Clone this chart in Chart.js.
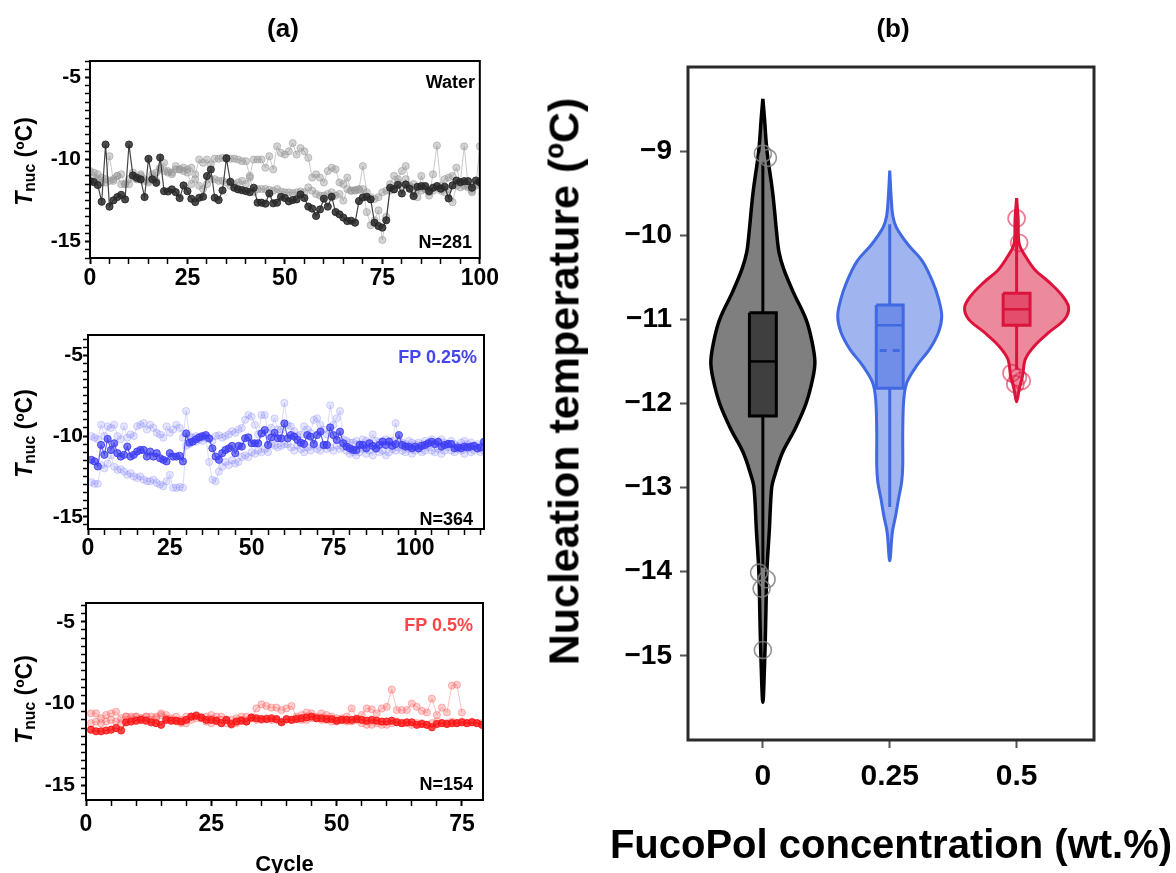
<!DOCTYPE html>
<html><head><meta charset="utf-8">
<script src="https://cdn.jsdelivr.net/npm/chart.js@4.4.1/dist/chart.umd.min.js"></script>
<style>
html,body{margin:0;padding:0;background:#fff;}
body{width:1176px;height:873px;position:relative;overflow:hidden;font-family:"Liberation Sans",Arial,Helvetica,sans-serif;font-weight:bold;color:#000;}
canvas{position:absolute;}
.t{position:absolute;white-space:nowrap;font-weight:bold;}
.rot{position:absolute;white-space:nowrap;font-weight:bold;text-align:center;transform-origin:50% 50%;transform:rotate(-90deg);}
.rot sub{font-size:68%;vertical-align:-0.25em;}
</style></head><body>
<canvas id="c1" width="500" height="270" style="left:0;top:40px"></canvas>
<canvas id="c2" width="500" height="260" style="left:0;top:310px"></canvas>
<canvas id="c3" width="500" height="300" style="left:0;top:580px"></canvas>
<canvas id="c4" width="636" height="873" style="left:540px;top:0"></canvas>

<div class="t" style="left:233px;width:100px;text-align:center;top:15px;font-size:26px;line-height:26px;">(a)</div>
<div class="t" style="left:843px;width:100px;text-align:center;top:15px;font-size:26px;line-height:26px;">(b)</div>

<div class="rot" style="left:-23px;top:147px;width:100px;font-size:23px;line-height:23px;"><i>T</i><sub>nuc</sub> (ºC)</div>
<div class="rot" style="left:-23px;top:419px;width:100px;font-size:23px;line-height:23px;"><i>T</i><sub>nuc</sub> (ºC)</div>
<div class="rot" style="left:-23px;top:685px;width:100px;font-size:23px;line-height:23px;"><i>T</i><sub>nuc</sub> (ºC)</div>

<div class="t" style="right:701px;top:73px;font-size:18px;line-height:18px;">Water</div>
<div class="t" style="right:704px;top:233px;font-size:18px;line-height:18px;">N=281</div>
<div class="t" style="right:699px;top:348px;font-size:18px;line-height:18px;color:#4646f0;">FP 0.25%</div>
<div class="t" style="right:703px;top:510px;font-size:18px;line-height:18px;">N=364</div>
<div class="t" style="right:703px;top:616px;font-size:18px;line-height:18px;color:#ff4545;">FP 0.5%</div>
<div class="t" style="right:703px;top:775px;font-size:18px;line-height:18px;">N=154</div>

<div class="rot" style="left:214px;top:360px;width:700px;font-size:43px;line-height:43px;">Nucleation temperature (ºC)</div>
<div class="t" style="left:541px;width:700px;text-align:center;top:824px;font-size:40px;line-height:40px;">FucoPol concentration (wt.%)</div>

<script>
// ---------------- DATA ----------------
// Panel (a) top: Water, cycles 0..100
const waterStart = 0;
const waterDark = [
 -11.32,-11.38,-11.56,-12.57,-9.09,-12.87,-12.49,-12.29,-12.15,-12.43,
 -9.09,-10.97,-11.11,-11.21,-12.29,-9.96,-11.21,-11.42,-9.88,-11.93,
 -11.95,-11.82,-11.99,-12.35,-11.58,-11.93,-12.39,-12.59,-12.33,-12.27,
 -11.01,-10.61,-12.33,-12.47,-11.88,-9.92,-11.36,-11.72,-11.82,-11.87,
 -11.93,-11.99,-11.72,-12.63,-12.63,-12.69,-12.07,-12.67,-12.63,-12.27,
 -12.35,
 -12.55,-12.47,-12.43,-12.13,-12.35,-12.87,-12.99,-13.44,-13.04,-12.39,
 -12.87,-12.27,-13.2,-13.34,-13.54,-13.75,-13.73,-13.85,-12.53,-12.31,
 -12.27,-12.43,-13.85,-14.05,-14.15,-13.7,-11.72,-11.82,-11.54,-12.07,
 -11.52,-11.78,-12.23,-11.66,-11.62,-11.62,-11.93,-11.72,-11.62,-11.78,
 -11.66,-12.37,-11.58,-11.28,-11.38,-11.32,-11.32,-11.72,-11.28,-11.38];
const waterLightA = [
 -10.7,-10.8,-10.9,-11.1,-11.2,-9.8,-11.3,-11.0,-10.9,-11.5,
 -11.5,-11.0,-11.2,-10.9,-11.2,-11.4,-10.9,-10.8,-10.5,-10.2,
 -10.7,-10.8,-10.4,-10.6,-10.5,-10.6,-10.5,-10.9,-10.0,-10.2,
 -10.0,-10.3,-9.95,-9.95,-9.9,-9.95,-9.95,-9.95,-10.0,-10.1,
 -10.1,-11.0,-10.0,-10.0,-10.0,-10.5,-9.8,-10.6,-9.2,-9.6,
 -9.7,-9.5,-9.0,-9.7,-9.3,-9.5,-9.9,-11.1,-10.9,-11.1,
 -11.4,-10.7,-10.5,-10.6,-11.4,-11.5,-11.1,-11.9,-11.85,-11.8,
 -10.4,-12.0,-12.3,-12.4,-12.3,-12.0,-11.9,-11.5,-11.0,-11.2,
 -10.7,-10.4,-11.6,-11.5,-12.3,-11.0,-11.8,-12.2,-10.9,-9.15,
 -11.6,-11.2,-11.1,-11.0,-10.5,-11.4,-9.2,-11.6,-12.0,-11.6,-9.2];
const waterLightB = [
 -11.3,-11.1,-11.2,-11.4,-11.4,-11.3,-11.2,-11.0,-11.5,-11.5,
 -11.2,-10.8,-11.2,-11.0,-11.3,-11.3,-11.1,-11.3,-10.6,-10.7,
 -10.8,-10.9,-10.6,-10.6,-10.7,-10.8,-11.5,-11.2,-11.6,-11.8,
 -11.5,-11.2,-11.2,-11.3,-11.3,-11.4,-11.6,-11.5,-11.4,-11.3,
 -11.5,-11.1,-12.0,-11.8,-11.8,-11.8,-11.85,-11.9,-11.8,-11.95,
 -12.0,-12.0,-12.05,-12.0,-11.95,-12.0,-11.7,-11.9,-12.1,-12.2,
 -12.2,-12.1,-12.0,-12.2,-12.1,-12.5,-11.8,-11.9,-11.9,-11.85,
 -11.8,-13.2,-14.0,-13.7,-13.1,-14.9,-13.5,-11.9,-11.8,-11.4,
 -11.6,-11.2,-11.7,-12.1,-11.8,-11.9,-11.8,-12.0,-11.9,-11.7,
 -11.9,-12.0,-11.8,-12.6,-11.6,-11.7,-11.6,-11.7,-11.9,-11.5,-11.4];

// Panel (a) middle: FP 0.25 %, cycles 1..121
const fp025Start = 1;
const fp025Dark = [
 -11.47,-11.57,-11.88,-10.55,-11.16,-10.18,-10.86,-10.45,-11.06,-11.27,
 -11.16,-10.65,-11.27,-11.16,-10.96,-10.86,-10.86,-11.27,-10.96,-11.27,
 -11.06,-11.37,-11.47,-11.57,-11.06,-11.27,-11.27,-11.22,-11.57,-9.84,
 -10.41,-10.35,-10.2,-10.08,-10.0,-9.94,-10.14,-10.76,-11.27,-11.47,
 -11.06,-10.86,-10.76,-10.61,-11.06,-10.61,-10.65,-10.14,-10.08,-10.45,
 -10.45,-10.45,-9.84,-9.63,-10.55,-10.08,-9.8,-10.14,-10.14,-9.22,
 -10.14,-9.94,-10.04,-10.24,-10.41,-10.49,-9.94,-10.04,-10.49,-9.94,
 -9.73,-10.55,-10.55,-9.47,-9.94,-10.24,-9.73,-10.45,-10.65,-10.76,
 -10.86,-10.86,-10.55,-10.55,-10.76,-10.45,-10.61,-10.76,-10.55,-10.35,
 -10.55,-10.35,-10.6,-10.5,-9.94,-10.55,-10.65,-10.65,-10.76,-10.65,
 -10.76,-10.61,-10.55,-10.45,-10.35,-10.49,-10.35,-10.65,-10.55,-10.49,
 -10.49,-10.76,-10.7,-10.76,-10.65,-10.7,-10.65,-10.61,-10.76,-10.7,-10.35];
const fp025LightA = [
 -10.0,-10.1,-10.2,-9.3,-10.0,-9.4,-9.5,-9.3,-10.0,-10.2,
 -9.4,-10.1,-9.9,-10.0,-9.4,-9.3,-9.2,-9.6,-9.3,-9.5,
 -9.8,-9.9,-10.1,-9.4,-9.8,-9.6,-9.3,-9.5,-10.1,-8.45,
 -10.0,-10.1,-10.0,-10.05,-10.1,-10.0,-10.2,-10.3,-10.0,-9.95,
 -10.1,-10.0,-9.9,-9.7,-9.8,-9.6,-9.5,-9.0,-8.7,-8.8,
 -9.3,-9.9,-8.7,-8.7,-9.8,-9.5,-8.9,-9.6,-9.6,-7.95,
 -9.3,-9.4,-9.7,-10.0,-9.9,-9.4,-9.6,-9.8,-9.0,-8.9,
 -9.3,-9.6,-9.9,-8.1,-9.3,-8.9,-8.45,-10.2,-10.3,-10.4,
 -10.4,-10.3,-10.5,-10.2,-10.3,-10.4,-9.9,-10.3,-10.4,-10.3,
 -10.2,-10.3,-10.3,-9.2,-10.3,-10.4,-10.5,-10.3,-10.4,-10.5,
 -10.4,-10.5,-10.3,-10.4,-10.2,-10.5,-10.4,-10.2,-10.4,-10.5,
 -10.3,-10.5,-10.6,-10.4,-10.3,-10.5,-10.4,-10.6,-10.5,-10.6,-10.4];
const fp025LightB = [
 -12.85,-12.95,-12.95,-11.8,-12.0,-11.7,-11.2,-11.9,-12.1,-12.05,
 -12.2,-12.4,-12.3,-12.5,-12.6,-12.5,-12.7,-12.8,-12.8,-12.7,
 -12.9,-13.0,-13.1,-12.8,-12.4,-13.2,-13.2,-13.15,-13.2,-10.6,
 -10.5,-10.3,-10.35,-10.2,-10.3,-10.1,-11.6,-12.7,-12.8,-12.2,
 -11.9,-11.6,-11.8,-11.5,-11.7,-11.6,-11.3,-11.2,-11.3,-11.0,
 -11.1,-10.9,-11.0,-10.8,-11.0,-10.5,-10.6,-10.7,-10.6,-10.5,
 -10.5,-10.7,-10.9,-10.6,-10.8,-11.0,-10.7,-10.9,-10.6,-10.8,
 -10.9,-10.6,-10.8,-10.7,-10.9,-10.6,-10.8,-10.7,-10.9,-11.1,
 -11.0,-11.2,-11.0,-10.8,-11.1,-10.9,-11.2,-10.8,-11.0,-10.9,
 -11.2,-11.0,-10.8,-10.9,-10.7,-10.9,-11.0,-10.8,-11.1,-10.9,
 -10.8,-11.0,-10.9,-10.7,-10.9,-11.0,-10.8,-11.1,-10.9,-10.7,
 -10.9,-11.0,-10.8,-10.9,-11.1,-10.8,-11.0,-10.9,-10.8,-11.0,-10.9];

// Panel (a) bottom: FP 0.5 %, cycles 1..79
const fp05Start = 1;
const fp05Dark = [
 -11.6,-11.7,-11.7,-11.65,-11.6,-11.5,-11.65,-11.15,-11.1,-11.05,
 -11.0,-11.05,-11.15,-11.2,-11.3,-11.0,-11.05,-11.05,-11.1,-11.0,
 -10.8,-10.75,-10.85,-11.0,-11.0,-11.05,-11.2,-11.0,-11.25,-11.1,
 -11.05,-11.1,-10.85,-10.9,-10.95,-10.95,-10.9,-10.95,-11.15,-10.95,
 -11.0,-10.95,-10.9,-10.85,-10.8,-10.9,-10.9,-10.95,-10.95,-11.05,
 -11.0,-11.0,-11.0,-10.95,-11.0,-11.05,-11.0,-11.05,-11.1,-11.1,
 -11.05,-11.15,-11.2,-11.15,-11.15,-11.3,-11.25,-11.3,-11.45,-11.25,
 -11.2,-11.25,-11.2,-11.2,-11.15,-11.2,-11.15,-11.2,-11.3];
const fp05LightA = [
 -10.6,-10.6,-10.9,-10.7,-10.6,-10.5,-10.9,-10.8,-10.8,-10.8,
 -10.9,-10.8,-10.8,-10.8,-10.6,-10.7,-10.9,-10.8,-11.0,-10.8,
 -10.8,-10.7,-10.9,-10.8,-10.7,-10.8,-10.8,-11.0,-11.0,-10.9,
 -10.8,-10.8,-10.9,-10.3,-10.05,-10.15,-10.25,-10.25,-10.4,-10.3,
 -10.15,-10.8,-10.7,-10.55,-10.6,-10.8,-10.6,-10.7,-10.8,-10.9,
 -10.9,-10.8,-10.3,-10.9,-10.7,-10.3,-10.35,-10.6,-10.3,-10.2,
 -9.15,-10.4,-10.4,-10.4,-10.0,-10.2,-10.45,-10.55,-9.7,-10.7,
 -10.25,-10.55,-8.9,-8.85,-10.55];
const fp05LightB = [
 -11.2,-11.1,-11.2,-11.1,-11.0,-11.1,-11.2,-10.8,-10.9,-10.8,
 -10.9,-10.8,-11.0,-10.9,-10.7,-10.9,-11.0,-11.1,-11.2,-11.2,
 -11.0,-10.9,-10.9,-11.1,-11.2,-11.1,-11.0,-11.2,-11.3,-11.2,
 -11.0,-11.1,-10.9,-11.0,-11.0,-10.9,-11.0,-11.0,-11.1,-11.0,
 -11.0,-10.9,-11.0,-11.0,-10.9,-10.9,-11.0,-11.0,-11.1,-11.1,
 -11.0,-11.1,-11.1,-11.0,-11.2,-11.3,-11.3,-11.2,-11.3,-11.3,
 -11.2,-11.1,-11.2,-11.2,-11.3,-11.2,-11.2,-11.3,-11.2,-11.1,
 -11.2,-11.2,-11.1,-11.2,-11.1,-11.2,-11.1,-11.2,-11.2];

// tick labels of panel (a)
const cycleLabelsTop = [0,25,50,75,100];
const cycleLabelsMid = [0,25,50,75,100];
const cycleLabelsBot = [0,25,50,75];
const tnucLabels = [-5,-10,-15];

// Panel (b): violin plots
const concCategories = ['0','0.25','0.5'];
const nucTicks = [-9,-10,-11,-12,-13,-14,-15];
// kernel-density outlines: temperature levels and relative half-width (0..1)
const violinWaterT = [-8.38,-8.6,-9.0,-9.5,-10.0,-10.2,-10.4,-10.67,-11.0,-11.25,-11.5,-11.7,-12.0,-12.3,-12.58,-12.85,-13.0,-13.5,-14.0,-14.5,-15.0,-15.55];
const violinWaterD = [0,0.03,0.08,0.19,0.27,0.31,0.40,0.58,0.83,0.94,1.0,0.96,0.83,0.62,0.38,0.23,0.17,0.125,0.077,0.058,0.038,0];
const violinBlueT = [-9.23,-9.57,-9.77,-9.91,-10.11,-10.31,-10.56,-10.76,-10.96,-11.15,-11.35,-11.55,-11.75,-11.95,-12.34,-12.74,-12.93,-13.13,-13.33,-13.53,-13.87];
const violinBlueD = [0,0.03,0.06,0.13,0.35,0.63,0.83,0.94,1.0,0.94,0.77,0.52,0.33,0.27,0.25,0.25,0.23,0.17,0.115,0.05,0];
const violinRedT = [-9.56,-9.8,-10.1,-10.25,-10.41,-10.56,-10.72,-10.86,-11.0,-11.15,-11.31,-11.47,-11.67,-11.83,-11.98];
const violinRedD = [0,0.03,0.05,0.17,0.35,0.63,0.88,1.0,0.92,0.63,0.35,0.17,0.115,0.05,0];
// box statistics per concentration
const boxQ1 = [-12.15,-11.82,-11.07];
const boxMedian = [-11.5,-11.07,-10.88];
const boxQ3 = [-10.92,-10.83,-10.69];
const whiskerLow = [-13.95,-13.23,-11.6];
const whiskerHigh = [-9.12,-9.87,-9.56];
const boxMean = [null,-11.37,null];
// outliers (temperature, horizontal jitter in category units)
const outWaterT = [-9.03,-9.08,-14.01,-14.09,-14.2,-14.93];
const outWaterJ = [0,0.04,-0.03,0.03,-0.01,0];
const outRedT = [-9.8,-10.09,-11.64,-11.69,-11.73,-11.77];
const outRedJ = [0,0.02,-0.04,0.01,0.04,-0.01];

// ---------------- CHARTS ----------------
Chart.defaults.font.family = '"Liberation Sans", Arial, Helvetica, sans-serif';
Chart.defaults.font.weight = 'bold';
Chart.defaults.color = '#000';
Chart.defaults.animation = false;

const framePlugin = {
  id: 'frame',
  afterDatasetsDraw(chart, args, opts) {
    const a = chart.chartArea, ctx = chart.ctx;
    ctx.save();
    ctx.strokeStyle = opts.color || '#000';
    ctx.lineWidth = opts.width || 2;
    ctx.strokeRect(a.left, a.top, a.right - a.left, a.bottom - a.top);
    ctx.restore();
  }
};

function steps(from, to, step) {
  const out = [];
  for (let k = Math.ceil(from / step - 1e-9); k * step <= to + 1e-9; k++) out.push(Math.round(k * step * 1000) / 1000);
  return out;
}
function toPoints(vals, start) { return vals.map((v, i) => ({x: start + i, y: v})); }

function seriesDS(vals, start, line, fill, order, lw) {
  return {
    data: toPoints(vals, start), borderColor: line, backgroundColor: fill, borderWidth: lw,
    pointRadius: 3.6, pointBackgroundColor: fill, pointBorderColor: line, pointBorderWidth: 1,
    tension: 0, fill: false, order: order
  };
}

function leftPanel(id, c) {
  const xt = steps(0, c.xmax, 5);
  const yt = steps(c.ymin, c.ymax, 0.5);
  new Chart(document.getElementById(id), {
    type: 'line',
    data: { datasets: c.datasets },
    plugins: [framePlugin],
    options: {
      responsive: false, events: [],
      layout: { padding: { top: c.padTop, right: c.padRight, left: 0, bottom: 0 } },
      plugins: { legend: { display: false }, tooltip: { enabled: false }, frame: { color: '#000', width: 2 } },
      scales: {
        x: {
          type: 'linear', min: 0, max: c.xmax,
          afterBuildTicks: s => { s.ticks = xt.map(v => ({value: v})); },
          afterFit: s => { s.height = c.xh; },
          border: { display: false },
          grid: { drawOnChartArea: false, drawTicks: true, tickLength: 6, tickColor: '#000',
                  tickWidth: ctx => (c.xlabels.includes(ctx.tick && ctx.tick.value) ? 2 : 1.5) },
          ticks: { autoSkip: false, maxRotation: 0, padding: c.xpad, color: '#000',
                   font: { size: 23, weight: 'bold' },
                   callback: v => (c.xlabels.includes(v) ? String(v) : '') },
          title: c.xtitle ? { display: true, text: c.xtitle, color: '#000', font: { size: 22, weight: 'bold' }, padding: { top: 0, bottom: c.xtitlePad } } : { display: false }
        },
        y: {
          type: 'linear', min: c.ymin, max: c.ymax,
          afterBuildTicks: s => { s.ticks = yt.map(v => ({value: v})); },
          afterFit: s => { s.width = c.yw; },
          border: { display: false },
          grid: { drawOnChartArea: false, drawTicks: true, tickLength: 5, tickColor: '#000',
                  tickWidth: ctx => (tnucLabels.includes(ctx.tick && ctx.tick.value) ? 2 : 1.5) },
          ticks: { autoSkip: false, padding: c.ypad, color: '#000', font: { size: 21, weight: 'bold' },
                   callback: v => (tnucLabels.includes(v) ? String(v) : '') }
        }
      }
    }
  });
}

leftPanel('c1', {
  xmax: 100, ymin: -16, ymax: -4, padTop: 21, padRight: 16, yw: 90, xh: 52, xpad: 1, ypad: 4,
  xlabels: cycleLabelsTop,
  datasets: [
    seriesDS(waterDark, waterStart, 'rgba(35,35,35,0.85)', 'rgba(45,45,45,0.85)', 1, 1.2),
    seriesDS(waterLightA, waterStart, 'rgba(150,150,150,0.5)', 'rgba(150,150,150,0.42)', 2, 1),
    seriesDS(waterLightB, waterStart, 'rgba(150,150,150,0.5)', 'rgba(150,150,150,0.42)', 3, 1)
  ]
});
leftPanel('c2', {
  xmax: 121, ymin: -15.75, ymax: -3.75, padTop: 25, padRight: 16, yw: 88, xh: 41, xpad: 0, ypad: 0,
  xlabels: cycleLabelsMid,
  datasets: [
    seriesDS(fp025Dark, fp025Start, 'rgba(55,55,240,0.8)', 'rgba(65,65,245,0.7)', 1, 1.2),
    seriesDS(fp025LightA, fp025Start, 'rgba(110,110,255,0.25)', 'rgba(110,110,255,0.18)', 2, 1),
    seriesDS(fp025LightB, fp025Start, 'rgba(110,110,255,0.25)', 'rgba(110,110,255,0.18)', 3, 1)
  ]
});
leftPanel('c3', {
  xmax: 79.2, ymin: -15.9, ymax: -3.85, padTop: 23, padRight: 17, yw: 86, xh: 80, xpad: 5, ypad: 6,
  xlabels: cycleLabelsBot, xtitle: 'Cycle', xtitlePad: 2,
  datasets: [
    seriesDS(fp05Dark, fp05Start, 'rgba(245,20,20,0.85)', 'rgba(255,25,25,0.8)', 1, 1.2),
    seriesDS(fp05LightA, fp05Start, 'rgba(255,90,90,0.38)', 'rgba(255,90,90,0.3)', 2, 1),
    seriesDS(fp05LightB, fp05Start, 'rgba(255,90,90,0.38)', 'rgba(255,90,90,0.3)', 3, 1)
  ]
});

// ---- violin panel ----
const VIOLIN_HALF = 0.41;   // max half-width in category units
const BOX_HALF = 0.106;
const groupLine = ['#000000', '#4169e1', '#dc143c'];
const groupFill = ['rgba(0,0,0,0.5)', 'rgba(65,105,225,0.5)', 'rgba(220,20,60,0.5)'];
const violinT = [violinWaterT, violinBlueT, violinRedT];
const violinD = [violinWaterD, violinBlueD, violinRedD];

function violinPoly(center, temps, dens) {
  const right = temps.map((t, i) => ({x: center + dens[i] * VIOLIN_HALF, y: t}));
  const left = temps.map((t, i) => ({x: center - dens[i] * VIOLIN_HALF, y: t})).reverse();
  return right.concat(left.slice(1));
}
const bDatasets = [];
concCategories.forEach((cat, i) => {
  bDatasets.push({ data: violinPoly(i, violinT[i], violinD[i]), fill: 'shape', backgroundColor: groupFill[i],
    borderColor: groupLine[i], borderWidth: i === 0 ? 3.5 : 3, pointRadius: 0, tension: 0.35, order: 10 });
  bDatasets.push({ data: [{x: i, y: whiskerHigh[i]}, {x: i, y: boxQ3[i]}, {x: i, y: null}, {x: i, y: boxQ1[i]}, {x: i, y: whiskerLow[i]}],
    fill: false, borderColor: groupLine[i], borderWidth: 3, pointRadius: 0, spanGaps: false, order: 9 });
  bDatasets.push({ data: [{x: i - BOX_HALF, y: boxQ3[i]}, {x: i + BOX_HALF, y: boxQ3[i]}, {x: i + BOX_HALF, y: boxQ1[i]}, {x: i - BOX_HALF, y: boxQ1[i]}, {x: i - BOX_HALF, y: boxQ3[i]}],
    fill: 'shape', backgroundColor: groupFill[i], borderColor: groupLine[i], borderWidth: 3, borderJoinStyle: 'miter', pointRadius: 0, tension: 0, order: 8 });
  bDatasets.push({ data: [{x: i - BOX_HALF, y: boxMedian[i]}, {x: i + BOX_HALF, y: boxMedian[i]}],
    fill: false, borderColor: groupLine[i], borderWidth: 2.5, pointRadius: 0, order: 7 });
  if (boxMean[i] !== null) {
    bDatasets.push({ data: [{x: i - BOX_HALF * 0.75, y: boxMean[i]}, {x: i + BOX_HALF * 0.75, y: boxMean[i]}],
      fill: false, borderColor: groupLine[i], borderWidth: 3, borderDash: [7, 6], pointRadius: 0, order: 6 });
  }
});
bDatasets.push({ data: outWaterT.map((t, k) => ({x: 0 + outWaterJ[k], y: t})), showLine: false,
  pointRadius: 8.5, pointBorderWidth: 1.6, pointBackgroundColor: 'rgba(0,0,0,0)', pointBorderColor: 'rgba(128,128,128,0.85)', order: 1 });
bDatasets.push({ data: outRedT.map((t, k) => ({x: 2 + outRedJ[k], y: t})), showLine: false,
  pointRadius: 8.5, pointBorderWidth: 1.8, pointBackgroundColor: 'rgba(0,0,0,0)', pointBorderColor: 'rgba(220,20,60,0.55)', order: 1 });

new Chart(document.getElementById('c4'), {
  type: 'line',
  data: { datasets: bDatasets },
  plugins: [framePlugin],
  options: {
    responsive: false, events: [],
    layout: { padding: { top: 67, right: 82, left: 0, bottom: 0 } },
    plugins: { legend: { display: false }, tooltip: { enabled: false }, frame: { color: '#2a2a2a', width: 3 } },
    scales: {
      x: {
        type: 'linear', min: -0.59, max: 2.61,
        afterBuildTicks: s => { s.ticks = concCategories.map((c, i) => ({value: i})); },
        afterFit: s => { s.height = 133; },
        border: { display: false },
        grid: { drawOnChartArea: false, tickLength: 8, tickColor: '#555', tickWidth: 2 },
        ticks: { autoSkip: false, maxRotation: 0, padding: 11, color: '#000', font: { size: 30, weight: 'bold' },
                 callback: v => concCategories[v] }
      },
      y: {
        type: 'linear', min: -16, max: -8,
        afterBuildTicks: s => { s.ticks = nucTicks.map(v => ({value: v})); },
        afterFit: s => { s.width = 148; },
        border: { display: false },
        grid: { drawOnChartArea: false, tickLength: 8, tickColor: '#555', tickWidth: 2 },
        ticks: { autoSkip: false, padding: 8, color: '#000', font: { size: 28, weight: 'bold' },
                 callback: v => String(v).replace('-', '\u2212') }
      }
    }
  }
});
</script>
</body></html>
